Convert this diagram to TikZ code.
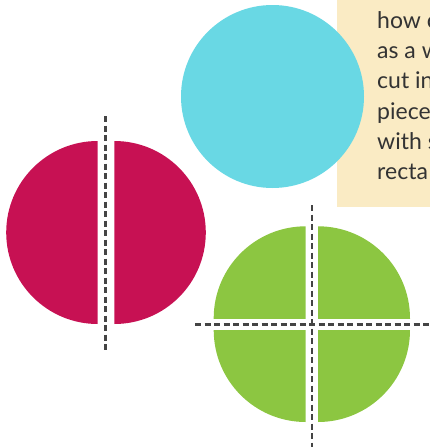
\documentclass[tikz,border=0pt]{standalone}
\usepackage{fontspec}
\setmainfont{Lato}
\definecolor{beige}{HTML}{FAEBC4}
\definecolor{skyc}{HTML}{69D8E4}
\definecolor{berry}{HTML}{C71153}
\definecolor{leaf}{HTML}{8CC641}
\definecolor{dashgray}{HTML}{444444}
\definecolor{textgray}{HTML}{333333}
\begin{document}
\begin{tikzpicture}[x=1pt,y=-1pt,
  cutline/.style={draw=dashgray, line width=2.6pt, dash pattern=on 6pt off 3.5pt},
  txt/.style={anchor=base west, inner sep=0pt, font=\fontsize{23}{30}\selectfont, text=textgray}]
\useasboundingbox (0,0) rectangle (430,447);
\clip (0,0) rectangle (430,447);
% text panel
\fill[beige] (337,0) rectangle (430,207);
\node[txt] (l1) at (377,28.3) {how c};
\node[txt] (l2) at (377,58.6) {as a w};
\node[txt] (l3) at (377,88.9) {cut in};
\node[txt] (l4) at (377,119.2) {piece};
\node[txt] (l5) at (377,149.5) {with s};
\node[txt] (l6) at (377,179.8) {recta};
% whole circle
\fill[skyc] (272.5,96.5) circle[radius=91.5pt];
% halves
\begin{scope}
\clip (0,100) rectangle (97.7,400);
\fill[berry] (97.7,232.5) circle[radius=91.5pt];
\end{scope}
\begin{scope}
\clip (114.3,100) rectangle (220,400);
\fill[berry] (114.3,232.5) circle[radius=91.5pt];
\end{scope}
\coordinate (h1) at (105.3,116);
\coordinate (h2) at (105.3,353);
\draw[cutline] (h1) -- (h2);
% quarters
\begin{scope}
\clip (200,200) rectangle (305.7,318.3);
\fill[leaf] (305.7,318.3) circle[radius=92pt];
\end{scope}
\begin{scope}
\clip (318,200) rectangle (430,318.3);
\fill[leaf] (318,318.3) circle[radius=92pt];
\end{scope}
\begin{scope}
\clip (200,330) rectangle (305.7,447);
\fill[leaf] (305.7,330) circle[radius=92pt];
\end{scope}
\begin{scope}
\clip (318,330) rectangle (430,447);
\fill[leaf] (318,330) circle[radius=92pt];
\end{scope}
\coordinate (v1) at (312,205);
\coordinate (v2) at (312,447);
\coordinate (w1) at (195,324.3);
\coordinate (w2) at (430,324.3);
\draw[cutline] (v1) -- (v2);
\draw[cutline] (w1) -- (w2);
\end{tikzpicture}
\end{document}
